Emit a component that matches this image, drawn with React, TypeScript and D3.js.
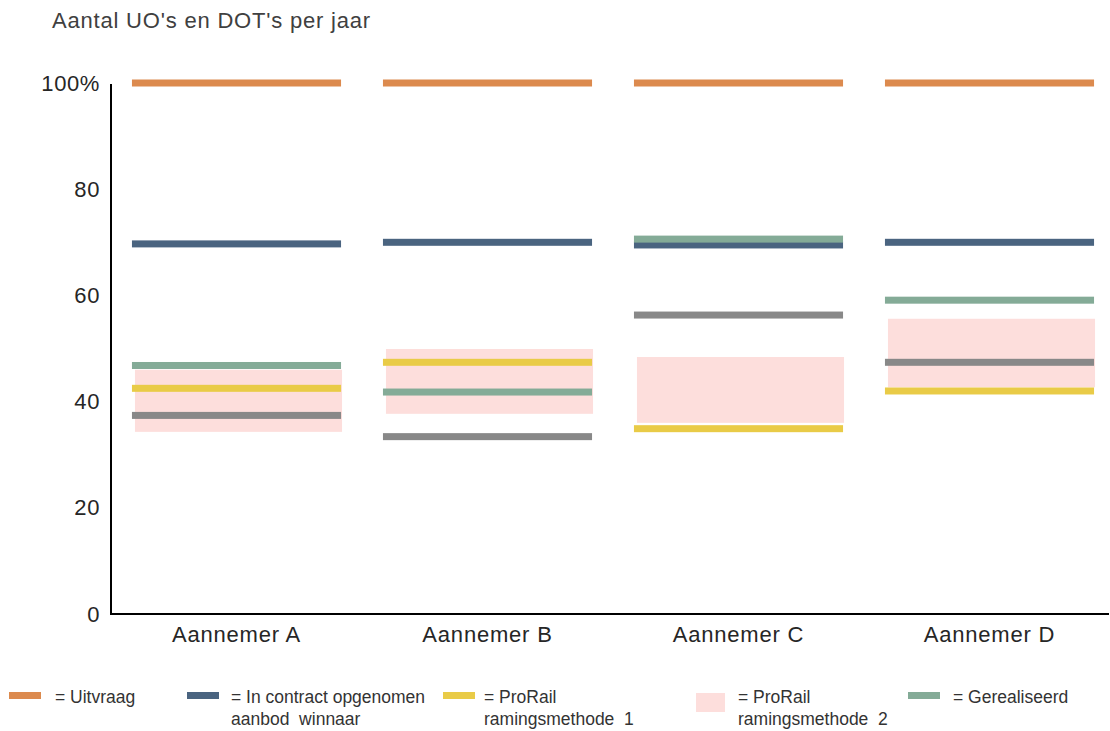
import React from "react";
import * as d3 from "d3";

const categories = ["Aannemer A", "Aannemer B", "Aannemer C", "Aannemer D"];
const uitvraag = [100, 100, 100, 100];
const contract = [69.7, 70.0, 69.5, 70.0];
const methode1 = [42.5, 47.4, 34.9, 42.0];
const methode2Low = [34.3, 37.7, 36.0, 42.7];
const methode2High = [46.0, 49.9, 48.4, 55.6];
const overig = [37.4, 33.4, 56.3, 47.4];
const gerealiseerd = [46.8, 41.8, 70.6, 59.1];
const yTicks = [0, 20, 40, 60, 80, 100];
const yTickLabels = ["0", "20", "40", "60", "80", "100%"];
const title = "Aantal UO's en DOT's per jaar";

const C = {
  orange: "#DC8A4E",
  blue: "#4A6480",
  yellow: "#E9CB47",
  pink: "#FDDEDC",
  green: "#84AB97",
  gray: "#888888",
};

export default function App() {
  const W = 1110, H = 731;
  const y = d3.scaleLinear().domain([0, 100]).range([614, 83]);
  const x = d3
    .scaleBand<string>()
    .domain(categories)
    .range([111, 1115])
    .paddingInner(0.167)
    .paddingOuter(0.0835);
  const bw = x.bandwidth();
  const lw = 7;
  const font = "'Liberation Sans', Arial, sans-serif";

  const series: [number[], string][] = [
    [uitvraag, C.orange],
    [contract, C.blue],
    [overig, C.gray],
    [methode1, C.yellow],
    [gerealiseerd, C.green],
  ];

  const legend = [
    { x: 9, color: C.orange, tx: 55, lines: ["= Uitvraag"] },
    { x: 187, color: C.blue, tx: 231, lines: ["= In contract opgenomen", "aanbod  winnaar"] },
    { x: 443, color: C.yellow, tx: 484, lines: ["= ProRail", "ramingsmethode  1"] },
    { x: 696, color: C.pink, tx: 738, lines: ["= ProRail", "ramingsmethode  2"], box: true },
    { x: 908, color: C.green, tx: 953, lines: ["= Gerealiseerd"] },
  ];

  return (
    <div style={{ position: "absolute", left: 0, top: 0 }}>
      <svg width={W} height={H} style={{ display: "block", background: "#fff" }}>
        <text x={52} y={28} fontFamily={font} fontSize={22} letterSpacing={0.8} fill="#404040">
          {title}
        </text>
        {/* pink ranges */}
        {categories.map((c, i) => (
          <rect
            key={"p" + c}
            x={(x(c) as number) + 3}
            y={y(methode2High[i])}
            width={bw - 2}
            height={y(methode2Low[i]) - y(methode2High[i])}
            fill={C.pink}
          />
        ))}
        {series.map(([vals, color], si) =>
          categories.map((c, i) => (
            <rect
              key={si + c}
              x={x(c) as number}
              y={y(vals[i]) - lw / 2}
              width={bw}
              height={lw}
              fill={color}
            />
          ))
        )}
        {/* axes */}
        <line x1={111} x2={111} y1={84} y2={615} stroke="#000" strokeWidth={2} />
        <line x1={110} x2={1109} y1={614} y2={614} stroke="#000" strokeWidth={2} />
        {yTicks.map((t, i) => (
          <text
            key={t}
            x={100}
            y={y(t)}
            textAnchor="end"
            dominantBaseline="central"
            fontFamily={font}
            fontSize={22}
            letterSpacing={0.6}
            fill="#262626"
          >
            {yTickLabels[i]}
          </text>
        ))}
        {categories.map((c) => (
          <text
            key={"l" + c}
            x={(x(c) as number) + bw / 2}
            y={642}
            textAnchor="middle"
            fontFamily={font}
            fontSize={22}
            letterSpacing={0.8}
            fill="#262626"
          >
            {c}
          </text>
        ))}
        {legend.map((l, i) => (
          <g key={"lg" + i}>
            {l.box ? (
              <rect x={l.x} y={693} width={29} height={19} fill={l.color} />
            ) : (
              <rect x={l.x} y={692} width={32} height={7} fill={l.color} />
            )}
            {l.lines.map((s, j) => (
              <text
                key={j}
                x={l.tx}
                y={703 + j * 22}
                fontFamily={font}
                fontSize={17.5}
                fill="#333"
                style={{ whiteSpace: "pre" }}
              >
                {s}
              </text>
            ))}
          </g>
        ))}
      </svg>
    </div>
  );
}
